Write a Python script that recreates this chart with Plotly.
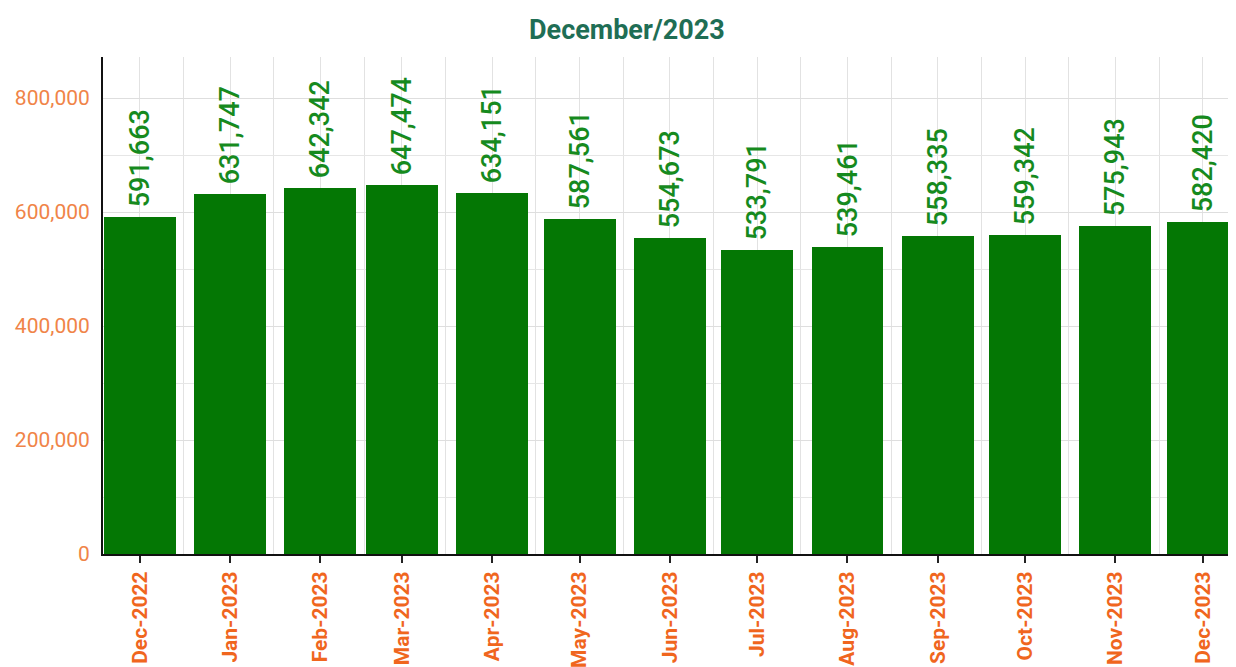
import plotly.graph_objects as go

months = ["2022-12-01", "2023-01-01", "2023-02-01", "2023-03-01", "2023-04-01",
          "2023-05-01", "2023-06-01", "2023-07-01", "2023-08-01", "2023-09-01",
          "2023-10-01", "2023-11-01", "2023-12-01"]
values = [591663, 631747, 642342, 647474, 634151, 587561, 554673, 533791,
          539461, 558335, 559342, 575943, 582420]
title_text = "December/2023"

DAY = 86400000
fig = go.Figure(go.Bar(
    x=months, y=values,
    width=[24.7 * DAY] * len(values),
    marker=dict(color="#047704", line=dict(width=0)),
    texttemplate="\u00a0%{y:,}",
    textposition="outside",
    textangle=-90,
    constraintext="none",
    textfont=dict(family="Roboto", size=27, color="#168a1e", weight=500),
    cliponaxis=False,
))

fig.update_layout(
    width=1228, height=659,
    margin=dict(l=95, r=0, t=49, b=113),
    plot_bgcolor="white", paper_bgcolor="white",
    showlegend=False,
    title=dict(text="<b>" + title_text + "</b>", x=0.504, xref="container", xanchor="center",
               y=1 - 22 / 659, yref="container", yanchor="middle",
               font=dict(family="Roboto", size=27, color="#1f6e55")),
    xaxis=dict(
        type="date", automargin=False,
        range=["2022-11-18 08:00", "2023-12-12 10:00"],
        tick0="2022-12-01", dtick="M1", tickformat="%b-%Y",
        tickangle=-90,
        tickfont=dict(family="Roboto", size=21, color="#f0661e", weight="bold"),
        ticks="outside", ticklen=7, tickwidth=2, tickcolor="#222",
        showline=True, linecolor="#111", linewidth=2,
        showgrid=True, gridcolor="#e2e2e2", gridwidth=1,
        minor=dict(tick0="2022-11-16", dtick="M1", showgrid=True, gridcolor="#e2e2e2", ticks=""),
        zeroline=False,
    ),
    yaxis=dict(
        automargin=False,
        range=[0, 872000],
        dtick=200000, tickformat=",",
        tickfont=dict(family="Roboto", size=21, color="#f08448"),
        showline=True, linecolor="#111", linewidth=2,
        showgrid=True, gridcolor="#dedede", gridwidth=1,
        minor=dict(dtick=100000, showgrid=True, gridcolor="#e6e6e6"),
        zeroline=False,
        ticks="", ticklabelstandoff=7,
    ),
    bargap=0,
)

fig.write_html("out.html")
